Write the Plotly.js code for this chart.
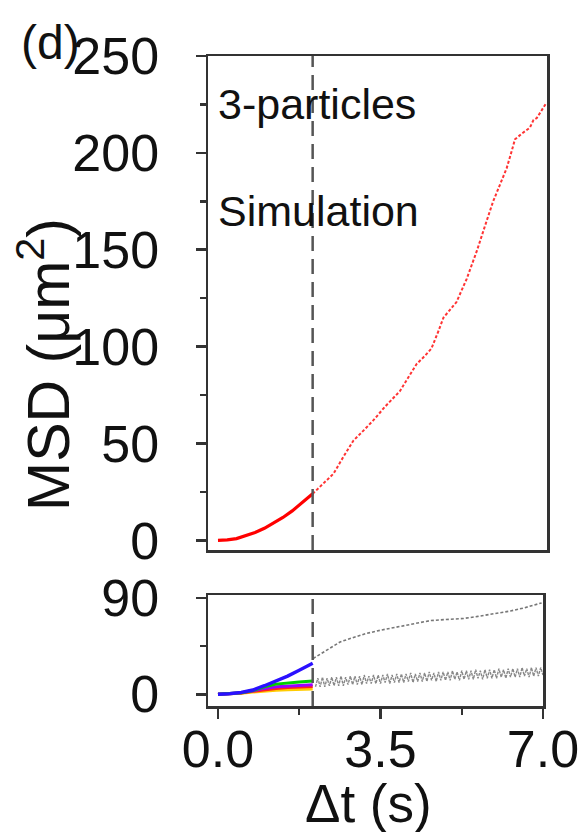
<!DOCTYPE html>
<html>
<head>
<meta charset="utf-8">
<script src="https://cdn.plot.ly/plotly-3.0.1.min.js"></script>
<style>
  html, body { margin: 0; padding: 0; background: #fff; }
  #chart { width: 588px; height: 832px; }
</style>
</head>
<body>
<div id="chart"></div>
<script>
// ---------------- DATA ----------------
const splitTime = 2.04;

// Top panel: 3-particle simulation MSD (red)
const redSolidT = [0, 0.2, 0.4, 0.6, 0.8, 1.0, 1.2, 1.4, 1.6, 1.8, 2.04];
const redSolidMSD = [0, 0.2, 0.9, 2.3, 4.0, 6.2, 8.8, 11.8, 15.2, 19.0, 24];
const redDotT = [2.04, 2.25, 2.49, 2.7, 2.92, 3.15, 3.35, 3.6, 3.92, 4.1, 4.28, 4.45, 4.6, 4.75, 4.86, 5.0, 5.14, 5.36, 5.58, 5.75, 5.93, 6.1, 6.22, 6.33, 6.4, 6.55, 6.72, 6.8, 6.87, 6.95, 7.08];
const redDotMSD = [24, 29, 34.4, 43, 51.5, 57, 62, 69, 77, 84, 91, 95, 99, 108, 115, 119, 123, 135, 149.5, 162, 175, 185, 192, 201, 207, 210, 213, 217, 218, 221, 226];

// Bottom panel: individual particles (coloured, 0..2.04 s)
const colT = [0, 0.25, 0.5, 0.75, 1.0, 1.25, 1.5, 1.75, 2.04];
const blueMSD   = [0, 0.5, 1.8, 4.0, 8.0, 12.5, 17.0, 22.5, 29.0];
const greenMSD  = [0, 0.4, 1.5, 3.5, 7.0, 9.5, 10.8, 11.5, 12.5];
const violetMSD = [0, 0.4, 1.4, 3.2, 5.5, 7.0, 7.8, 8.3, 8.8];
const redMSD    = [0, 0.35, 1.2, 2.7, 4.3, 5.5, 6.3, 6.8, 7.2];
const yellowMSD = [0, 0.3, 1.0, 2.0, 3.0, 3.7, 4.2, 4.6, 5.0];

// Bottom panel: gray dotted continuation (upper curve)
const grayUpT = [2.05, 2.3, 2.63, 2.9, 3.2, 3.5, 3.85, 4.2, 4.57, 4.9, 5.29, 5.6, 6.0, 6.3, 6.6, 6.97];
const grayUpMSD = [33.5, 40, 49, 53, 57, 60, 63, 66, 69, 70, 71, 73, 75.6, 78, 81, 85.6];

// Bottom panel: gray dotted oscillating curve (lower)
const grayLowT = [2.10,2.15,2.20,2.25,2.30,2.35,2.40,2.45,2.50,2.55,2.60,2.65,2.70,2.75,2.80,2.85,2.90,2.95,3.00,3.05,
  3.10,3.15,3.20,3.25,3.30,3.35,3.40,3.45,3.50,3.55,3.60,3.65,3.70,3.75,3.80,3.85,3.90,3.95,4.00,4.05,
  4.10,4.15,4.20,4.25,4.30,4.35,4.40,4.45,4.50,4.55,4.60,4.65,4.70,4.75,4.80,4.85,4.90,4.95,5.00,5.05,
  5.10,5.15,5.20,5.25,5.30,5.35,5.40,5.45,5.50,5.55,5.60,5.65,5.70,5.75,5.80,5.85,5.90,5.95,6.00,6.05,
  6.10,6.15,6.20,6.25,6.30,6.35,6.40,6.45,6.50,6.55,6.60,6.65,6.70,6.75,6.80,6.85,6.90,6.95,7.00];
const grayLowMSD = [7,15,7,16,7,15,8,16,8,16,8,17,8,16,9,17,9,17,9,17,
  9,18,10,17,10,18,10,18,10,18,11,19,10,18,11,19,11,19,11,19,
  12,20,11,19,12,20,12,20,12,21,13,20,12,21,13,21,13,21,13,22,
  14,21,13,22,14,22,14,22,14,23,15,22,14,23,15,23,15,23,15,24,
  16,23,15,24,16,24,16,24,16,25,17,24,16,25,17,25,17,25,18];

// Tick settings
const topYTicks = [0, 50, 100, 150, 200, 250];
const botYTicks = [0, 90];
const xTicks = [0, 3.5, 7.0];
const xTickText = ['0.0', '3.5', '7.0'];

// ---------------- CHART ----------------
const FONT = 'Liberation Sans, Arial, Helvetica, sans-serif';
const AX = '#333333';

const traces = [
  {x: redSolidT, y: redSolidMSD, xaxis: 'x2', yaxis: 'y2', mode: 'lines',
   line: {color: '#ff0000', width: 3.2}},
  {x: redDotT, y: redDotMSD, xaxis: 'x2', yaxis: 'y2', mode: 'lines',
   line: {color: '#ff3333', width: 2, dash: '3px,2px'}},
  {x: grayUpT, y: grayUpMSD, xaxis: 'x', yaxis: 'y', mode: 'lines',
   line: {color: '#777777', width: 1.6, dash: '3px,2px'}},
  {x: grayLowT, y: grayLowMSD, xaxis: 'x', yaxis: 'y', mode: 'lines',
   line: {color: '#888888', width: 1.4, dash: '3px,1px'}},
  {x: colT, y: yellowMSD, xaxis: 'x', yaxis: 'y', mode: 'lines', line: {color: '#ffcc00', width: 3}},
  {x: colT, y: redMSD, xaxis: 'x', yaxis: 'y', mode: 'lines', line: {color: '#ff2020', width: 3}},
  {x: colT, y: violetMSD, xaxis: 'x', yaxis: 'y', mode: 'lines', line: {color: '#9a00ff', width: 3}},
  {x: colT, y: greenMSD, xaxis: 'x', yaxis: 'y', mode: 'lines', line: {color: '#00d000', width: 3}},
  {x: colT, y: blueMSD, xaxis: 'x', yaxis: 'y', mode: 'lines', line: {color: '#2a10ff', width: 3.4}}
];

const W = 588, H = 832;
const mL = 208, mR = 41, mT = 56, mB = 126;
const pw = W - mL - mR, ph = H - mT - mB;
const px = v => (v - mL) / pw;           // pixel x -> paper x
const py = v => (H - mB - v) / ph;        // pixel y -> paper y

const axisLine = {showline: true, linecolor: AX, linewidth: 2.5, mirror: true,
  showgrid: false, zeroline: false};

const layout = {
  width: W, height: H,
  margin: {l: mL, r: mR, t: mT, b: mB, pad: 0},
  paper_bgcolor: '#ffffff', plot_bgcolor: '#ffffff',
  showlegend: false,
  font: {family: FONT, color: '#111111', size: 52},
  xaxis: Object.assign({}, axisLine, {
    domain: [0, (543 - mL) / pw], anchor: 'y', range: [-0.215, 7.0],
    tickmode: 'array', tickvals: xTicks, ticktext: xTickText,
    ticks: 'outside', ticklen: 10, tickwidth: 2.5, tickcolor: AX,
    tickfont: {family: FONT, size: 52, color: '#111'},
    ticklabelstandoff: -14,
    minor: {tickmode: 'array', tickvals: [1.75, 5.25], ticks: 'outside', ticklen: 6, tickwidth: 2.5, tickcolor: AX}
  }),
  yaxis: Object.assign({}, axisLine, {
    domain: [0, py(595)], anchor: 'x', range: [-11, 93],
    tickmode: 'array', tickvals: botYTicks,
    ticks: 'outside', ticklen: 10, tickwidth: 2.5, tickcolor: AX,
    tickfont: {family: FONT, size: 52, color: '#111'},
    ticklabelstandoff: 26,
    minor: {tickmode: 'array', tickvals: [45], ticks: 'outside', ticklen: 6, tickwidth: 2.5, tickcolor: AX}
  }),
  xaxis2: Object.assign({}, axisLine, {
    domain: [0, 1], anchor: 'y2', range: [-0.215, 7.09],
    showticklabels: false, ticks: ''
  }),
  yaxis2: Object.assign({}, axisLine, {
    domain: [py(550), 1], anchor: 'x2', range: [-5, 250],
    tickmode: 'array', tickvals: topYTicks,
    ticks: 'outside', ticklen: 10, tickwidth: 2.5, tickcolor: AX,
    tickfont: {family: FONT, size: 52, color: '#111'},
    ticklabelstandoff: 26,
    minor: {tickmode: 'array', tickvals: [25, 75, 125, 175, 225], ticks: 'outside', ticklen: 6, tickwidth: 2.5, tickcolor: AX}
  }),
  shapes: [
    {type: 'line', xref: 'x2', yref: 'y2 domain', x0: splitTime, x1: splitTime, y0: 0, y1: 1,
     line: {color: '#555555', width: 2.5, dash: '15px,8px'}},
    {type: 'line', xref: 'x', yref: 'y domain', x0: splitTime, x1: splitTime, y0: 0, y1: 1,
     line: {color: '#555555', width: 2.5, dash: '15px,8px'}}
  ],
  annotations: [
    {text: '(d)', xref: 'paper', yref: 'paper', x: px(50), y: py(42),
     xanchor: 'center', yanchor: 'middle', showarrow: false,
     font: {family: FONT, size: 48, color: '#111'}},
    {text: '3-particles', xref: 'paper', yref: 'paper', x: px(216), y: py(104),
     xanchor: 'left', yanchor: 'middle', showarrow: false,
     font: {family: FONT, size: 43, color: '#111'}},
    {text: 'Simulation', xref: 'paper', yref: 'paper', x: px(216), y: py(211),
     xanchor: 'left', yanchor: 'middle', showarrow: false,
     font: {family: FONT, size: 43, color: '#111'}},
    {text: 'MSD (μm<sup>2</sup>)', xref: 'paper', yref: 'paper', x: px(44), y: py(365),
     xanchor: 'center', yanchor: 'middle', showarrow: false, textangle: -90,
     font: {family: FONT, size: 59, color: '#111'}},
    {text: 'Δt (s)', xref: 'paper', yref: 'paper', x: px(368), y: py(803),
     xanchor: 'center', yanchor: 'middle', showarrow: false,
     font: {family: FONT, size: 53, color: '#111'}}
  ]
};

Plotly.newPlot('chart', traces, layout, {staticPlot: true, displayModeBar: false});
</script>
</body>
</html>
